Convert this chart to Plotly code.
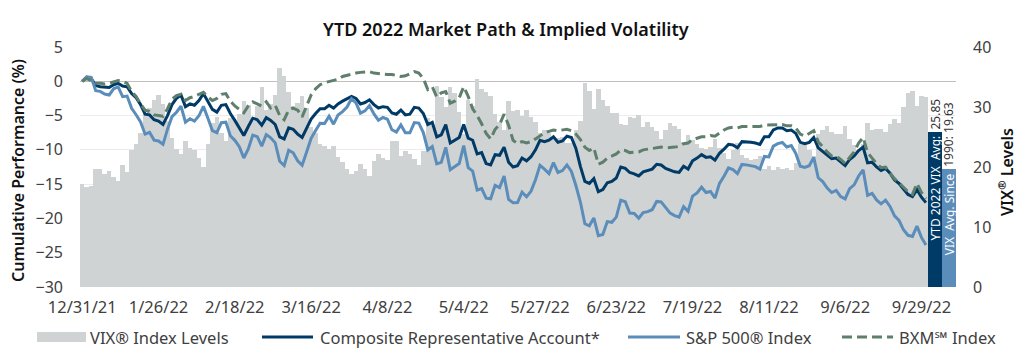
import plotly.graph_objects as go

# ---------------- data ----------------
tick_labels = ["12/31/21", "1/26/22", "2/18/22", "3/16/22", "4/8/22", "5/4/22",
               "5/27/22", "6/23/22", "7/19/22", "8/11/22", "9/6/22", "9/29/22"]
tick_step = 17  # trading days between labelled dates

vix = [
    17.22, 16.60, 16.91, 19.73, 19.61, 18.76, 19.40, 18.41, 17.62, 20.31, 19.19, 22.79, 23.85, 25.59, 28.85, 29.90, 31.16, 31.96, 30.49, 27.66, 24.83,
    22.96, 22.09, 24.35, 23.22, 22.86, 21.44, 19.96, 23.91, 27.36, 28.33, 25.70, 24.29, 28.11, 27.75, 28.81, 31.02, 30.32, 27.59, 30.15,
    33.32, 29.57, 30.48, 31.98, 36.45, 35.13, 32.45, 30.23, 30.75, 31.77, 29.83, 26.67, 25.67, 23.87, 23.53, 22.94, 23.57, 21.67, 20.81, 19.63, 18.90, 19.33, 20.56,
    19.63, 18.57, 21.03, 22.10, 21.55, 21.16, 24.37, 24.26, 21.82, 22.70, 22.17, 21.37, 20.32, 22.68, 28.21, 27.02, 33.52, 31.60, 29.99, 33.40,
    32.34, 29.25, 25.42, 31.20, 30.19, 34.75, 32.99, 32.56, 31.77, 28.87, 27.47, 26.10, 30.96, 29.35, 29.43, 28.48, 29.45, 28.37, 27.50, 25.72, 26.19,
    25.69, 24.72, 24.79, 25.07, 24.02, 23.96, 26.09, 27.75, 34.02, 32.69, 29.62, 33.00, 31.13, 30.19, 28.95, 29.05, 27.23, 26.95, 28.36, 28.16, 28.71,
    26.70, 27.54, 26.73, 26.08, 24.64, 26.17, 27.29, 26.82, 26.40, 24.23, 25.30, 24.50, 23.88, 23.11, 23.03, 23.36, 24.69, 23.24, 22.33, 21.33,
    22.84, 23.93, 21.95, 21.44, 21.15, 21.29, 21.77, 19.74, 20.20, 19.53, 19.95, 19.69, 19.90, 19.56, 20.60, 23.80, 24.11, 22.82, 21.78, 25.56, 26.21, 26.83, 25.87,
    25.56, 25.47, 26.91, 24.64, 23.61, 22.79, 23.87, 27.27, 26.16, 26.27, 26.30, 25.76, 27.16, 27.99, 27.35, 29.92, 32.26, 32.60, 30.18, 31.84, 31.62,
]

composite = [
    0.0, 0.6, 0.4, -0.6, -0.8, -0.9, -0.9, -0.5, -0.3, -0.7, -0.8, -1.8, -2.4, -3.4, -4.8, -4.9, -5.6, -5.8, -6.3, -5.0, -3.4,
    -2.5, -2.0, -3.7, -3.3, -3.5, -2.8, -1.8, -3.0, -4.1, -4.5, -3.5, -3.4, -4.7, -5.7, -6.8, -7.9, -6.6, -5.4, -5.6,
    -6.4, -5.3, -5.7, -6.3, -8.1, -8.4, -6.8, -7.0, -7.7, -8.2, -6.8, -5.5, -4.7, -4.0, -4.0, -3.5, -3.9, -3.3, -2.9, -2.6, -2.2, -2.5, -3.3,
    -3.1, -2.7, -3.4, -3.9, -3.7, -3.8, -4.6, -4.8, -4.2, -4.9, -4.8, -3.8, -3.9, -4.7, -6.3, -6.0, -8.1, -7.8, -6.3, -9.0,
    -8.6, -8.2, -6.3, -8.3, -8.6, -10.6, -10.4, -12.0, -12.2, -10.7, -10.8, -9.6, -11.8, -12.5, -12.3, -11.2, -11.6, -11.0, -10.0, -8.6, -8.8,
    -8.6, -8.1, -8.9, -8.7, -8.0, -8.2, -9.8, -12.4, -14.6, -14.9, -14.2, -16.1, -15.8, -14.8, -14.6, -14.1, -12.5, -12.7, -13.3, -13.5, -13.8,
    -13.2, -13.0, -12.8, -12.1, -12.2, -12.7, -13.0, -13.2, -13.3, -12.4, -12.8, -11.6, -11.2, -10.7, -11.1, -11.0, -11.5, -10.5, -9.9, -9.2,
    -9.3, -9.7, -8.8, -8.8, -8.9, -9.0, -9.2, -8.1, -8.1, -7.1, -6.8, -6.8, -7.2, -7.1, -7.6, -8.9, -9.1, -8.9, -8.2, -9.7, -10.2, -10.8, -11.3,
    -11.2, -11.8, -12.3, -11.4, -10.9, -10.1, -9.6, -11.9, -11.8, -12.5, -13.0, -12.7, -13.4, -14.4, -14.9, -15.7, -16.5, -16.8, -15.8, -16.9, -17.7,
]

sp500 = [
    0.00, 0.64, 0.57, -1.38, -1.47, -1.86, -2.00, -1.10, -0.83, -2.24, -2.15, -3.95, -4.88, -5.93, -7.71, -7.45, -8.58, -8.71, -9.20, -6.98, -5.16,
    -4.51, -3.61, -5.96, -5.47, -5.82, -5.03, -3.66, -5.40, -7.19, -7.50, -6.04, -5.96, -7.95, -8.61, -9.53, -11.19, -9.87, -7.85, -8.08,
    -9.45, -7.77, -8.25, -8.98, -11.66, -12.29, -10.05, -10.43, -11.59, -12.24, -10.32, -8.32, -7.19, -6.11, -6.15, -5.09, -6.25, -4.91, -4.43, -3.75, -2.52, -3.14, -4.65,
    -4.32, -3.55, -4.76, -5.68, -5.28, -5.53, -7.07, -7.39, -6.36, -7.49, -7.51, -6.03, -6.09, -7.47, -10.02, -9.51, -12.05, -11.82, -9.64, -12.91,
    -12.42, -11.99, -9.38, -12.59, -13.09, -15.86, -15.65, -17.04, -17.14, -15.17, -15.51, -13.81, -17.23, -17.71, -17.69, -16.18, -16.85, -16.02, -14.36, -12.26, -12.80,
    -13.45, -11.87, -13.30, -13.03, -12.20, -13.15, -15.20, -17.61, -20.78, -21.08, -19.93, -22.52, -22.35, -20.46, -20.56, -19.81, -17.33, -17.57, -19.22, -19.28, -19.98,
    -19.14, -19.01, -18.73, -17.52, -17.59, -18.48, -19.23, -19.58, -19.82, -18.30, -18.97, -16.75, -16.27, -15.45, -16.23, -16.07, -17.03, -14.88, -13.86, -12.64,
    -12.89, -13.46, -12.12, -12.19, -12.33, -12.44, -12.81, -10.96, -11.03, -9.45, -9.09, -8.92, -9.58, -9.37, -10.53, -12.38, -12.57, -12.32, -11.10, -14.07, -14.63, -15.57, -16.22,
    -15.92, -16.81, -17.15, -15.65, -15.10, -13.81, -12.91, -16.64, -16.36, -17.30, -17.88, -17.33, -18.25, -19.63, -20.30, -21.66, -22.46, -22.63, -21.12, -22.77, -23.87,
]

bxm = [
    0.0, 0.4, 0.1, -0.3, -0.3, -0.4, -0.3, -0.1, 0.1, 0.0, -0.3, -1.5, -2.2, -3.3, -4.2, -4.4, -4.9, -5.0, -5.1, -4.0, -2.6,
    -2.1, -1.9, -2.8, -2.4, -2.2, -1.9, -1.6, -2.3, -2.8, -2.5, -1.9, -1.8, -2.9, -3.6, -4.1, -4.6, -3.6, -3.0, -3.3,
    -3.6, -3.0, -3.9, -3.5, -5.0, -5.6, -4.2, -3.9, -4.2, -5.2, -3.5, -2.0, -1.1, -0.5, -0.2, 0.0, 0.1, 0.3, 0.7, 0.9, 1.1, 1.2, 1.3,
    1.3, 1.4, 1.2, 1.1, 1.1, 1.0, 1.0, 0.9, 0.7, 0.8, 1.1, 1.4, 1.2, 0.4, -1.2, -0.8, -2.3, -1.7, -1.5, -3.2,
    -2.9, -2.4, -0.8, -2.2, -4.0, -5.0, -6.2, -7.6, -8.4, -7.0, -6.3, -4.8, -6.4, -8.6, -9.1, -8.8, -9.0, -8.8, -8.4, -7.9, -7.5,
    -7.3, -7.1, -7.2, -7.1, -7.0, -7.2, -7.7, -8.5, -9.6, -10.1, -9.7, -12.1, -11.8, -11.2, -10.9, -10.6, -10.0, -10.1, -10.4, -10.3, -10.3,
    -10.0, -9.9, -9.8, -9.6, -9.6, -9.7, -9.7, -9.6, -9.5, -9.1, -9.0, -8.5, -8.3, -8.1, -8.1, -7.9, -8.0, -7.5, -7.1, -6.8,
    -6.7, -6.8, -6.6, -6.6, -6.6, -6.6, -6.6, -6.4, -6.4, -6.3, -6.3, -6.3, -6.5, -6.5, -6.8, -7.7, -8.0, -7.6, -7.2, -8.8, -9.6, -10.3, -10.9,
    -10.9, -11.4, -12.0, -11.1, -10.3, -9.0, -8.2, -10.4, -11.2, -12.0, -12.6, -12.5, -13.4, -14.2, -14.8, -15.5, -16.1, -16.5, -14.9, -16.2, -17.1,
]

series_names = ["VIX\u00ae Index Levels", "Composite Representative Account*",
                "S&P 500\u00ae Index", "BXM\u2120 Index"]

avg_labels_in = ["YTD 2022 VIX\u00a0\u00a0Avg:", "VIX\u00a0\u00a0Avg. Since"]
avg_labels_out = ["25.85", "1990: 19.63"]
avg_values = [25.85, 19.63]

# ---------------- styling ----------------
FONT = "Noto Sans"
C_VIX = "#D0D3D4"
C_COMP = "#003A66"
C_SPX = "#5B8DBA"
C_BXM = "#5F7F6D"
DASH = "10px,5px"
AVG_W = 3.1

L, R, T, B = 80, 68, 47, 70
W, H = 1024, 357
pw, ph = W - L - R, H - T - B


def px_x(p):
    return (p - L) / pw


def px_y(p):
    return (H - B - p) / ph


days = list(range(len(vix)))
base = len(vix) - 0.5
avg_x = [base + AVG_W / 2, base + AVG_W * 1.5]
avg_colors = [C_COMP, C_SPX]

fig = go.Figure()

fig.add_trace(go.Bar(x=days, y=vix, width=1.0, name=series_names[0],
                     marker=dict(color=C_VIX, line=dict(width=0)), yaxis="y"))
fig.add_trace(go.Bar(x=avg_x, y=avg_values, width=AVG_W,
                     marker=dict(color=avg_colors, line=dict(width=0)), yaxis="y"))
fig.add_trace(go.Scatter(x=days, y=composite, mode="lines", name=series_names[1],
                         line=dict(color=C_COMP, width=3), yaxis="y2"))
fig.add_trace(go.Scatter(x=days, y=sp500, mode="lines", name=series_names[2],
                         line=dict(color=C_SPX, width=3), yaxis="y2"))
fig.add_trace(go.Scatter(x=days, y=bxm, mode="lines", name=series_names[3],
                         line=dict(color=C_BXM, width=3, dash=DASH), yaxis="y2"))

annotations = []
for xv, val, t_in, t_out in zip(avg_x, avg_values, avg_labels_in, avg_labels_out):
    annotations.append(dict(x=xv, y=val, xref="x", yref="y", text=t_in, showarrow=False,
                            textangle=-90, yanchor="top", xanchor="center", yshift=-2,
                            font=dict(family=FONT, size=12, color="white")))
    annotations.append(dict(x=xv, y=val, xref="x", yref="y", text=t_out, showarrow=False,
                            textangle=-90, yanchor="bottom", xanchor="center", yshift=0,
                            font=dict(family=FONT, size=12, color="#333333")))

annotations.append(dict(x=px_x(18), y=px_y(171), xref="paper", yref="paper",
                        text="Cumulative Performance (%)",
                        showarrow=False, textangle=-90, xanchor="center", yanchor="middle",
                        font=dict(family=FONT, size=16, color="#111111", weight=600)))
annotations.append(dict(x=px_x(1006), y=px_y(172), xref="paper", yref="paper",
                        text="VIX<sup>\u00ae</sup> Levels",
                        showarrow=False, textangle=-90, xanchor="center", yanchor="middle",
                        font=dict(family=FONT, size=16, color="#111111", weight=600)))

# ---- legend drawn below the axis (swatch start/end and text start, in px) ----
LEG_Y = 337
legend_layout = [(37, 86, 88), (262, 313, 318), (628, 680, 684), (842, 893, 897)]
legend_styles = [dict(color=C_VIX, width=10, dash="solid"),
                 dict(color=C_COMP, width=3, dash="solid"),
                 dict(color=C_SPX, width=3, dash="solid"),
                 dict(color=C_BXM, width=3, dash=DASH)]
shapes = []
for (x0, x1, xt), name, st in zip(legend_layout, series_names, legend_styles):
    shapes.append(dict(type="line", xref="paper", yref="paper",
                       x0=px_x(x0), x1=px_x(x1), y0=px_y(LEG_Y), y1=px_y(LEG_Y),
                       line=st))
    annotations.append(dict(x=px_x(xt), y=px_y(LEG_Y), xref="paper", yref="paper",
                            text=name, showarrow=False, xanchor="left", yanchor="middle",
                            font=dict(family=FONT, size=16.5, color="#404040")))

fig.update_layout(
    width=W, height=H,
    margin=dict(l=L, r=R, t=T, b=B, autoexpand=False),
    paper_bgcolor="white", plot_bgcolor="white",
    barmode="overlay", bargap=0,
    showlegend=False,
    font=dict(family=FONT, size=16, color="#404040"),
    title=dict(text="YTD 2022 Market Path & Implied Volatility", x=0.494, xanchor="center",
               y=1 - 30 / H, yanchor="middle", yref="container",
               font=dict(family=FONT, size=18, color="#111111", weight=600)),
    xaxis=dict(range=[-0.5, base + 2 * AVG_W], showgrid=False, zeroline=False,
               tickmode="array", tickvals=[i * tick_step for i in range(len(tick_labels))],
               ticktext=tick_labels, ticks="", ticklabelstandoff=8,
               tickfont=dict(size=16.5, color="#404040")),
    yaxis=dict(range=[0, 40], side="right", dtick=10, showgrid=False, zeroline=False,
               ticks="", ticklabelstandoff=16, tickfont=dict(size=16, color="#404040")),
    yaxis2=dict(range=[-30, 5], side="left", overlaying="y", dtick=5, showgrid=True,
                gridcolor="#ECECEC", gridwidth=1, zeroline=True, zerolinecolor="#BFBFBF",
                zerolinewidth=1, ticks="", ticklabelstandoff=16,
                tickfont=dict(size=16, color="#404040")),
    annotations=annotations,
    shapes=shapes,
)

fig.write_html("out.html", config={"displayModeBar": False},
               post_script="document.body.style.margin='0';")
